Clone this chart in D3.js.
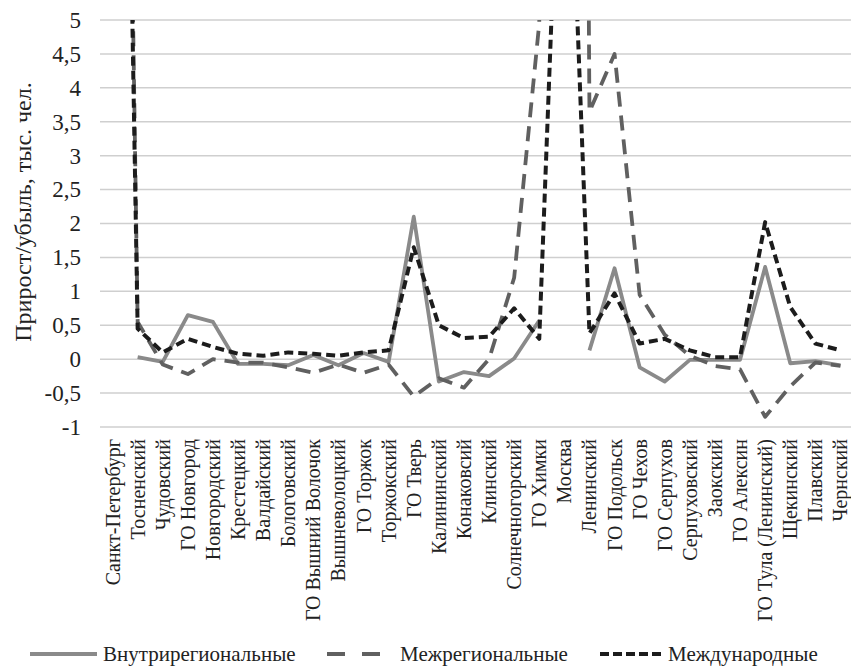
<!DOCTYPE html>
<html><head><meta charset="utf-8">
<script src="https://cdn.jsdelivr.net/npm/d3@7"></script>
<style>body{margin:0;background:#fff}svg{display:block}text{font-family:"Liberation Serif","Tinos","Times New Roman","DejaVu Serif","Noto Serif",serif;fill:#222}</style>
</head><body>
<script>
const categories = ["Санкт-Петербург","Тосненский","Чудовский","ГО Новгород","Новгородский","Крестецкий","Валдайский","Бологовский","ГО Вышний Волочок","Вышневолоцкий","ГО Торжок","Торжокский","ГО Тверь","Калининский","Конаковсий","Клинский","Солнечногорский","ГО Химки","Москва","Ленинский","ГО Подольск","ГО Чехов","ГО Серпухов","Серпуховский","Заокский","ГО Алексин","ГО Тула (Ленинский)","Щекинский","Плавский","Чернский"];
const intraregional = [null,0.03,-0.04,0.65,0.55,-0.07,-0.07,-0.09,0.06,-0.09,0.09,-0.04,2.1,-0.33,-0.19,-0.25,0.01,0.57,null,0.13,1.34,-0.12,-0.33,-0.01,-0.01,-0.01,1.36,-0.06,-0.03,-0.09];
const interregional = [25,0.55,-0.08,-0.22,0.0,-0.05,-0.05,-0.12,-0.2,-0.08,-0.2,-0.08,-0.55,-0.28,-0.42,0.0,1.2,4.95,60,3.65,4.5,0.95,0.36,0.05,-0.1,-0.15,-0.85,-0.4,-0.05,-0.1];
const international = [22,0.45,0.1,0.3,0.18,0.08,0.05,0.1,0.08,0.05,0.1,0.13,1.65,0.5,0.31,0.33,0.75,0.3,10,0.38,0.97,0.23,0.3,0.13,0.03,0.03,2.02,0.77,0.23,0.13];
const yTicks = [-1,-0.5,0,0.5,1,1.5,2,2.5,3,3.5,4,4.5,5];
const seriesNames = ["Внутрирегиональные","Межрегиональные","Международные"];

const W=851,H=667;
const svg=d3.select("body").append("svg").attr("width",W).attr("height",H);
const x=d3.scaleBand().domain(categories).range([100,853]);
const y=d3.scaleLinear().domain([-1,5]).range([427,20]);
const fmt=v=>String(v).replace(".",",");

svg.append("g").selectAll("line").data(yTicks).join("line")
  .attr("x1",100).attr("x2",W).attr("y1",d=>y(d)).attr("y2",d=>y(d))
  .attr("stroke","#cfcfcf").attr("stroke-width",1.5);

const yAxis=d3.axisLeft(y).tickValues(yTicks).tickFormat(fmt).tickSize(0).tickPadding(0);
const ga=svg.append("g").attr("transform","translate(81,0)").call(yAxis);
ga.select(".domain").remove();
ga.selectAll("text").attr("font-size",23).attr("fill","#222");

const xAxis=d3.axisBottom(x).tickSize(0).tickPadding(0);
const gx=svg.append("g").attr("transform","translate(0,439)").call(xAxis);
gx.select(".domain").remove();
gx.selectAll("text").attr("font-size",20).attr("fill","#222")
  .attr("transform","rotate(-90)").attr("text-anchor","end").attr("x",0).attr("y",0).attr("dy","0.35em");

svg.append("text").attr("transform","translate(31,212) rotate(-90)").attr("text-anchor","middle")
  .attr("font-size",24).text("Прирост/убыль,  тыс.  чел.");

svg.append("clipPath").attr("id","clip").append("rect").attr("x",100).attr("y",20).attr("width",760).attr("height",420);
const cx=c=>x(c)+x.bandwidth()/2;
const line=d3.line().defined(d=>d.v!=null).x(d=>cx(d.c)).y(d=>y(d.v));
const styles=[
  {data:intraregional,color:"#8a8a8a",w:3.8,dash:null},
  {data:interregional,color:"#606060",w:3.8,dash:"15,9"},
  {data:international,color:"#1c1c1c",w:4,dash:"9,5"}
];
const gl=svg.append("g").attr("clip-path","url(#clip)");
styles.forEach(s=>{
  gl.append("path").datum(categories.map((c,i)=>({c,v:s.data[i]})))
    .attr("d",line).attr("fill","none").attr("stroke",s.color).attr("stroke-width",s.w)
    .attr("stroke-dasharray",s.dash).attr("stroke-linejoin","round");
});

const ly=654;
const lg=svg.append("g");
lg.append("line").attr("x1",30).attr("x2",97).attr("y1",ly).attr("y2",ly).attr("stroke","#8a8a8a").attr("stroke-width",3.8);
lg.append("text").attr("x",103).attr("y",ly).attr("dy","0.35em").attr("font-size",21).text(seriesNames[0]);
lg.append("line").attr("x1",327).attr("x2",380).attr("y1",ly).attr("y2",ly).attr("stroke","#606060").attr("stroke-width",3.8).attr("stroke-dasharray","18,17");
lg.append("text").attr("x",400).attr("y",ly).attr("dy","0.35em").attr("font-size",21).text(seriesNames[1]);
lg.append("line").attr("x1",600).attr("x2",664).attr("y1",ly).attr("y2",ly).attr("stroke","#1c1c1c").attr("stroke-width",4).attr("stroke-dasharray","9,4");
lg.append("text").attr("x",668).attr("y",ly).attr("dy","0.35em").attr("font-size",21).text(seriesNames[2]);
</script>
</body></html>
